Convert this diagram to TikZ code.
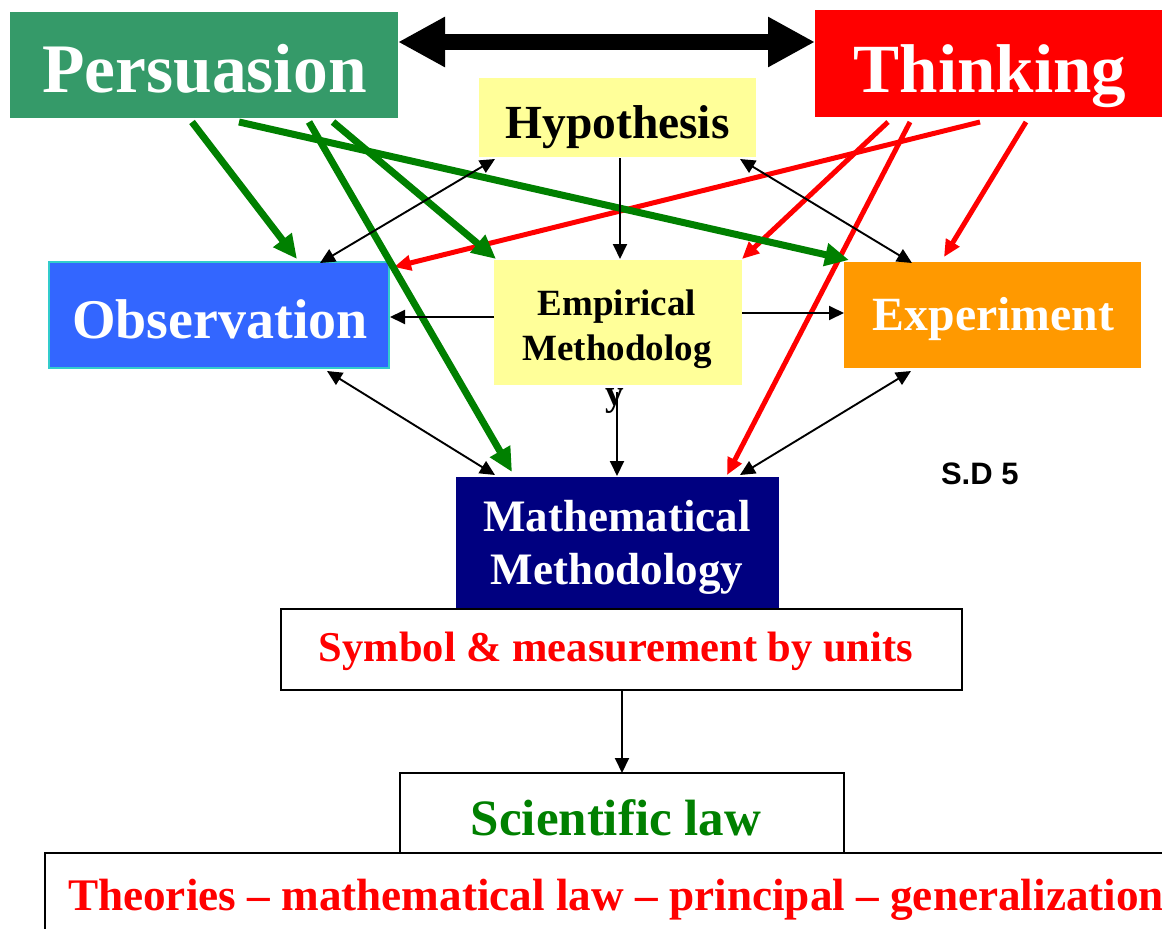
\documentclass[tikz,border=0pt]{standalone}
\usepackage{fontspec}
\setmainfont{Liberation Serif}
\newfontfamily\arialfont{Liberation Sans}
\usetikzlibrary{arrows.meta,calc}
\definecolor{persgreen}{HTML}{359A69}
\definecolor{obsblue}{HTML}{3366FF}
\definecolor{obscyan}{HTML}{33CCCC}
\definecolor{exporange}{HTML}{FF9900}
\definecolor{lightyellow}{HTML}{FFFF99}
\definecolor{mathnavy}{HTML}{000080}
\definecolor{arrgreen}{HTML}{008000}
\definecolor{pureRed}{HTML}{FF0000}
\begin{document}
\begin{tikzpicture}[x=1pt,y=-1pt,
  box/.style={rectangle,inner sep=0pt,outer sep=0pt},
  lbl/.style={anchor=base,inner sep=0pt,outer sep=0pt},
  fs/.style={font=\bfseries\fontsize{#1}{#1}\selectfont},
  garrow/.style={draw=arrgreen,line width=7pt,-{Triangle[length=24pt,width=22pt]}},
  rarrow/.style={draw=pureRed,line width=5pt,-{Triangle[length=17pt,width=15pt]}},
  barrow/.style={draw=black,line width=1.9pt,-{Triangle[length=15pt,width=14pt]}},
  bbarrow/.style={draw=black,line width=1.9pt,{Triangle[length=15pt,width=14pt]}-{Triangle[length=15pt,width=14pt]}},
]
\useasboundingbox (0,0) rectangle (1162,929);
\clip (0,0) rectangle (1162,929);
\fill[white] (0,0) rectangle (1162,929);

% boxes
\node[box,fill=persgreen,minimum width=388pt,minimum height=106pt] (pers) at (204,65) {};
\node[box,fill=pureRed,minimum width=347pt,minimum height=107pt] (think) at (988.5,63.5) {};
\node[box,fill=lightyellow,minimum width=277pt,minimum height=79pt] (hyp) at (617.5,117.5) {};
\node[box,fill=lightyellow,minimum width=248pt,minimum height=125pt] (emp) at (618,322.5) {};
\node[box,fill=obsblue,draw=obscyan,line width=1.5pt,minimum width=340pt,minimum height=106pt] (obs) at (219,315) {};
\node[box,fill=exporange,minimum width=297pt,minimum height=106pt] (exp) at (992.5,315) {};
\node[box,fill=mathnavy,minimum width=323pt,minimum height=131pt] (math) at (617.5,542.5) {};
\node[box,draw=black,line width=1.5pt,minimum width=681pt,minimum height=81pt] (sym) at (621.5,649.5) {};
\node[box,draw=black,line width=2pt,minimum width=444pt,minimum height=80pt] (sci) at (622,813) {};
\node[box,draw=black,line width=2pt,minimum width=1155pt,minimum height=147pt] (theo) at (622.5,926.5) {};

% texts
\node[lbl,fs=69.5,text=white] (perst) at (204.5,92) {Persuasion};
\node[lbl,fs=69,text=white] (thinkt) at (990,92) {Thinking};
\node[lbl,fs=47.5,text=black] (hypt) at (617.5,138) {Hypothesis};
\node[lbl,fs=56,text=white] (obst) at (220,338) {Observation};
\node[lbl,fs=47.7,text=white] (expt) at (993.5,330) {Experiment};
\node[lbl,fs=37,text=black] (empt1) at (617,315) {Empirical};
\node[lbl,fs=37,text=black] (empt2) at (617,360) {Methodolog};
\node[lbl,fs=37,text=black] (empt3) at (615,405) {y};
\node[lbl,fs=45,text=white] (matht1) at (617,531) {Mathematical};
\node[lbl,fs=45,text=white] (matht2) at (617,584) {Methodology};
\node[lbl,fs=42.5,text=pureRed] (symt) at (616,661) {Symbol \& measurement by units};
\node[lbl,fs=51,text=arrgreen] (scit) at (616,835) {Scientific law};
\node[lbl,anchor=base west,fs=45.2,text=pureRed] (theot) at (68,910) {Theories – mathematical law – principal – generalization};
\node[lbl,anchor=base west,font=\arialfont\bfseries\fontsize{31}{31}\selectfont,text=black] (sd) at (941,484) {S.D 5};

% big double arrow
\draw[line width=16.5pt,{Triangle[length=47pt,width=47pt]}-{Triangle[length=47pt,width=47pt]}]
  ($(pers.north east)+(0,30)$) -- ($(think.north west)+(0,32)$);

% red arrows
\draw[rarrow] ($(think.south west)+(165,5)$) -- ($(obs.north east)+(5,5)$);
\draw[rarrow] ($(think.south west)+(73,5)$) -- ($(emp.north east)+(0,-1)$);
\draw[rarrow] ($(think.south west)+(95,5)$) -- ($(math.north east)+(-52,-2)$);
\draw[rarrow] ($(think.south west)+(211,5)$) -- ($(exp.north west)+(100,-5)$);

% green arrows
\draw[garrow] ($(pers.south west)+(182,4)$) -- ($(obs.north west)+(248,-3)$);
\draw[garrow] ($(pers.south west)+(229,4)$) -- ($(exp.north west)+(5,-2)$);
\draw[garrow] ($(pers.south west)+(299,4)$) -- ($(math.north west)+(56,-5)$);
\draw[garrow] ($(pers.south west)+(323,4)$) -- ($(emp.north west)+(2,-1)$);

% black arrows
\draw[bbarrow] ($(hyp.south west)+(16,2)$) -- ($(obs.north west)+(271,1)$);
\draw[barrow] ($(hyp.south)+(2.5,1)$) -- ($(emp.north)+(2,-1)$);
\draw[bbarrow] ($(hyp.south east)+(-16,2)$) -- ($(exp.north west)+(68,1)$);
\draw[barrow] ($(emp.west)+(0,-5.5)$) -- ($(obs.east)+(1,2)$);
\draw[barrow] ($(emp.east)+(0,-9.5)$) -- ($(exp.west)+(0,-2)$);
\draw[bbarrow] ($(obs.south west)+(278,3)$) -- ($(math.north west)+(39,-2)$);
\draw[barrow] ($(emp.south)+(-1,7)$) -- ($(math.north)+(-0.5,-1)$);
\draw[bbarrow] ($(exp.south west)+(67,3)$) -- ($(math.north east)+(-39,-2)$);
\draw[barrow] ($(sym.south)+(0.5,0)$) -- (sci.north);
\end{tikzpicture}
\end{document}
